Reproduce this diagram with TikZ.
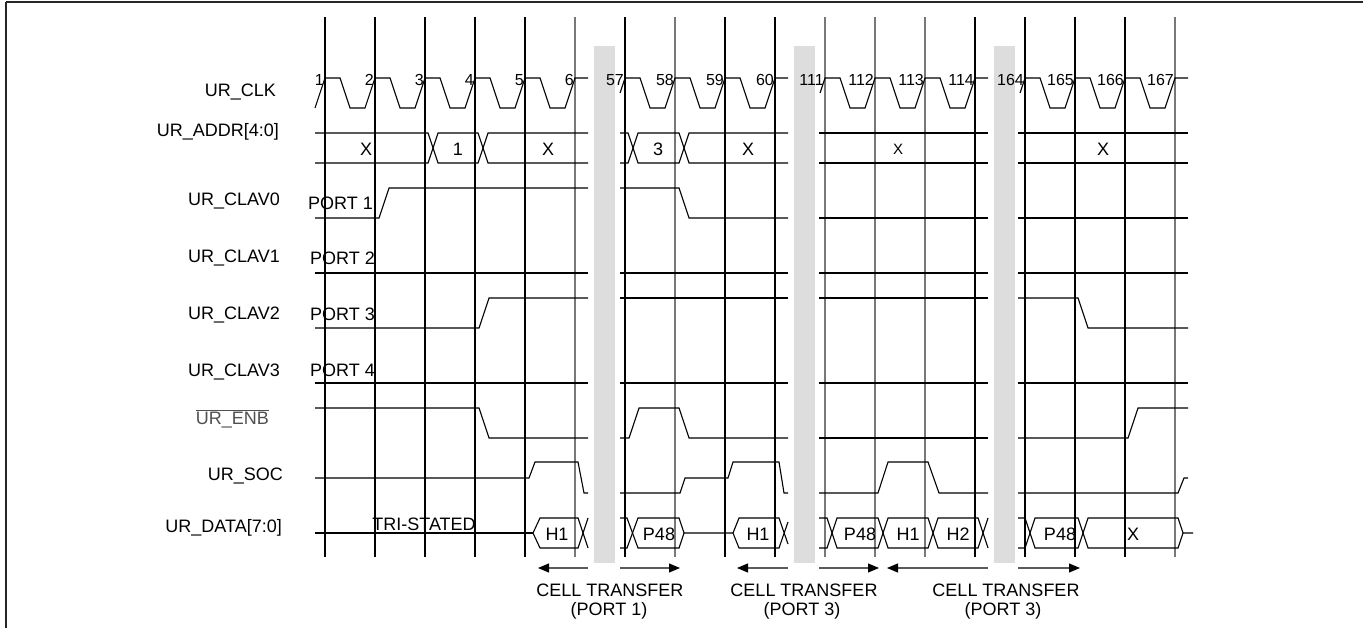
\documentclass[tikz,border=0pt]{standalone}
\usepackage{fontspec}
\setmainfont{Liberation Sans}
\usetikzlibrary{arrows.meta}
\definecolor{bandgray}{RGB}{221,221,221}
\definecolor{gridgray}{RGB}{120,120,120}
\definecolor{arrgray}{RGB}{90,90,90}
\definecolor{enbgray}{RGB}{80,80,80}
\tikzset{
  sig/.style={line width=1.1pt, black},
  gridl/.style={line width=1.1pt, black},
  gridg/.style={line width=1.1pt, gridgray},
  lbl/.style={font=\fontsize{18}{20}\selectfont, inner sep=0pt},
  num/.style={font=\fontsize{16}{18}\selectfont, inner sep=0pt, anchor=east},
  arr/.style={line width=1.1pt, arrgray, -{Triangle[length=11pt,width=9pt,color=black]}},
  band/.style={fill=bandgray, draw=none},
  frame/.style={line width=2pt, black!85},
}
\begin{document}
\begin{tikzpicture}[x=1pt,y=-1pt]
\useasboundingbox (0,0) rectangle (1363,628);
% frame (top and left)
\draw[frame] (6,2.5) -- (1363,2.5);
\draw[frame] (6,2.5) -- (6,628);
% gray bands
\foreach \b in {594,794,994} \fill[band] (\b,46) rectangle (\b+21,563);
% grid lines
\foreach \g in {325,375,425,475,525,625,725,775,975,1025,1075,1125}
  \draw[gridl] (\g,17) -- (\g,557);
\foreach \g in {575,675,825,875,925,1175}
  \draw[gridg] (\g,17) -- (\g,557);
% signal names
\node[lbl,anchor=east] (lclk) at (276,92) {UR\_CLK};
\node[lbl,anchor=east] (laddr) at (279,132) {UR\_ADDR[4:0]};
\node[lbl,anchor=east] (lclav0) at (280,201) {UR\_CLAV0};
\node[lbl,anchor=east] (lclav1) at (280,258) {UR\_CLAV1};
\node[lbl,anchor=east] (lclav2) at (280,315) {UR\_CLAV2};
\node[lbl,anchor=east] (lclav3) at (280,372) {UR\_CLAV3};
\node[lbl,anchor=east,text=enbgray] (lenb) at (269,419) {$\overline{\hbox{UR\_ENB}}$};
\node[lbl,anchor=east] (lsoc) at (283,476) {UR\_SOC};
\node[lbl,anchor=east] (ldata) at (282,528) {UR\_DATA[7:0]};
% clock
\draw[sig] (315,108) -- (325,78)
  \foreach \g in {325,375,...,525} { -- (\g+15,78) -- (\g+25,108) -- (\g+40,108) -- (\g+50,78) }
  -- (588,78);
\draw[sig] (620,93) -- (625,78)
  \foreach \g in {625,675,725} { -- (\g+15,78) -- (\g+25,108) -- (\g+40,108) -- (\g+50,78) }
  -- (788,78);
\draw[sig] (820,93) -- (825,78)
  \foreach \g in {825,875,925} { -- (\g+15,78) -- (\g+25,108) -- (\g+40,108) -- (\g+50,78) }
  -- (988,78);
\draw[sig] (1020,93) -- (1025,78)
  \foreach \g in {1025,1075,1125} { -- (\g+15,78) -- (\g+25,108) -- (\g+40,108) -- (\g+50,78) }
  -- (1188,78);
\foreach \g/\n in {325/1,375/2,425/3,475/4,525/5,575/6,625/57,675/58,725/59,775/60,825/111,875/112,925/113,975/114,1025/164,1075/165,1125/166,1175/167}
  \node[num] (n\n) at (\g-1,80) {\n};
% UR_ADDR
\draw[sig] (315,133) -- (428,133) -- (438,163) -- (478,163) -- (488,133) -- (588,133);
\draw[sig] (315,163) -- (428,163) -- (438,133) -- (478,133) -- (488,163) -- (588,163);
\draw[sig] (620,133) -- (628,133) -- (638,163) -- (679,163) -- (689,133) -- (788,133);
\draw[sig] (620,163) -- (628,163) -- (638,133) -- (679,133) -- (689,163) -- (788,163);
\draw[sig] (819,133) -- (988,133) (819,163) -- (988,163);
\draw[sig] (1018,133) -- (1188,133) (1018,163) -- (1188,163);
\node[lbl] (ax1) at (366,149) {X};
\node[lbl] (ax2) at (458,149) {1};
\node[lbl] (ax3) at (548,149) {X};
\node[lbl] (ax4) at (658,149) {3};
\node[lbl] (ax5) at (748,149) {X};
\node[lbl,font=\fontsize{15}{17}\selectfont] (ax6) at (898,149) {X};
\node[lbl] (ax7) at (1103,149) {X};
% CLAV0
\draw[sig] (315,218) -- (379,218) -- (389,188) -- (588,188);
\draw[sig] (620,188) -- (679,188) -- (689,218) -- (788,218);
\draw[sig] (819,218) -- (988,218);
\draw[sig] (1018,218) -- (1188,218);
% CLAV1
\draw[sig] (315,273) -- (588,273) (620,273) -- (788,273) (819,273) -- (988,273) (1018,273) -- (1188,273);
% CLAV2
\draw[sig] (315,328) -- (479,328) -- (489,298) -- (588,298);
\draw[sig] (620,298) -- (788,298) (819,298) -- (988,298);
\draw[sig] (1018,298) -- (1078,298) -- (1088,328) -- (1188,328);
% CLAV3
\draw[sig] (315,383) -- (588,383) (620,383) -- (788,383) (819,383) -- (988,383) (1018,383) -- (1188,383);
\node[lbl,anchor=west] (p1) at (308,203) {PORT 1};
\node[lbl,anchor=west] (p2) at (310,258) {PORT 2};
\node[lbl,anchor=west] (p3) at (310,314) {PORT 3};
\node[lbl,anchor=west] (p4) at (310,370) {PORT 4};
% ENB
\draw[sig] (315,408) -- (479,408) -- (489,438) -- (588,438);
\draw[sig] (620,438) -- (629,438) -- (639,408) -- (679,408) -- (689,438) -- (788,438);
\draw[sig] (819,438) -- (988,438);
\draw[sig] (1018,438) -- (1128,438) -- (1138,408) -- (1188,408);
% SOC
\draw[sig] (315,478) -- (529,478) -- (535,462) -- (578,462) -- (584,493) -- (588,493);
\draw[sig] (620,493) -- (680,493) -- (685,478) -- (728,478) -- (733,462) -- (779,462) -- (784,493) -- (788,493);
\draw[sig] (819,493) -- (878,493) -- (888,462) -- (928,462) -- (939,493) -- (988,493);
\draw[sig] (1018,493) -- (1178,493) -- (1184,478) -- (1188,478);
% DATA
\draw[sig] (315,533) -- (533,533);
\draw[sig] (533,533) -- (540,518) -- (578,518) -- (588,548);
\draw[sig] (533,533) -- (540,548) -- (578,548) -- (588,518);
\draw[sig] (620,518) -- (627,518) -- (638,548) -- (679,548) -- (684,533) -- (733,533);
\draw[sig] (620,548) -- (627,548) -- (638,518) -- (679,518) -- (684,533);
\draw[sig] (733,533) -- (739,518) -- (779,518) -- (788,544);
\draw[sig] (733,533) -- (739,548) -- (779,548) -- (788,522);
\draw[sig] (819,518) -- (827,518) -- (837,548) -- (878,548) -- (888,518) -- (928,518) -- (938,548) -- (978,548) -- (988,518);
\draw[sig] (819,548) -- (827,548) -- (837,518) -- (878,518) -- (888,548) -- (928,548) -- (938,518) -- (978,518) -- (988,548);
\draw[sig] (1018,518) -- (1025,518) -- (1035,548) -- (1078,548) -- (1088,518) -- (1178,518) -- (1183,533) -- (1193,533);
\draw[sig] (1018,548) -- (1025,548) -- (1035,518) -- (1078,518) -- (1088,548) -- (1178,548) -- (1183,533);
\node[lbl,anchor=base] (tri) at (424,530) {TRI-STATED};
\node[lbl] (d1) at (557,534) {H1};
\node[lbl] (d2) at (659,534) {P48};
\node[lbl] (d3) at (758,534) {H1};
\node[lbl] (d4) at (860,534) {P48};
\node[lbl] (d5) at (908,534) {H1};
\node[lbl] (d6) at (958,534) {H2};
\node[lbl] (d7) at (1060,534) {P48};
\node[lbl] (d8) at (1133,534) {X};
% cell transfer arrows
\coordinate (a1s) at (588,568); \coordinate (a1e) at (538,568);
\coordinate (a2s) at (620,568); \coordinate (a2e) at (680,568);
\coordinate (a3s) at (788,568); \coordinate (a3e) at (737,568);
\coordinate (a4s) at (819,568); \coordinate (a4e) at (879,568);
\coordinate (a5s) at (988,568); \coordinate (a5e) at (887,568);
\coordinate (a6s) at (1018,568); \coordinate (a6e) at (1080,568);
\foreach \i in {1,...,6} \draw[arr] (a\i s) -- (a\i e);
\node[lbl] (ct1) at (610,590) {CELL TRANSFER};
\node[lbl] (cp1) at (609,611) {(PORT 1)};
\node[lbl] (ct2) at (804,590) {CELL TRANSFER};
\node[lbl] (cp2) at (802,611) {(PORT 3)};
\node[lbl] (ct3) at (1006,590) {CELL TRANSFER};
\node[lbl] (cp3) at (1003,611) {(PORT 3)};
\end{tikzpicture}
\end{document}
